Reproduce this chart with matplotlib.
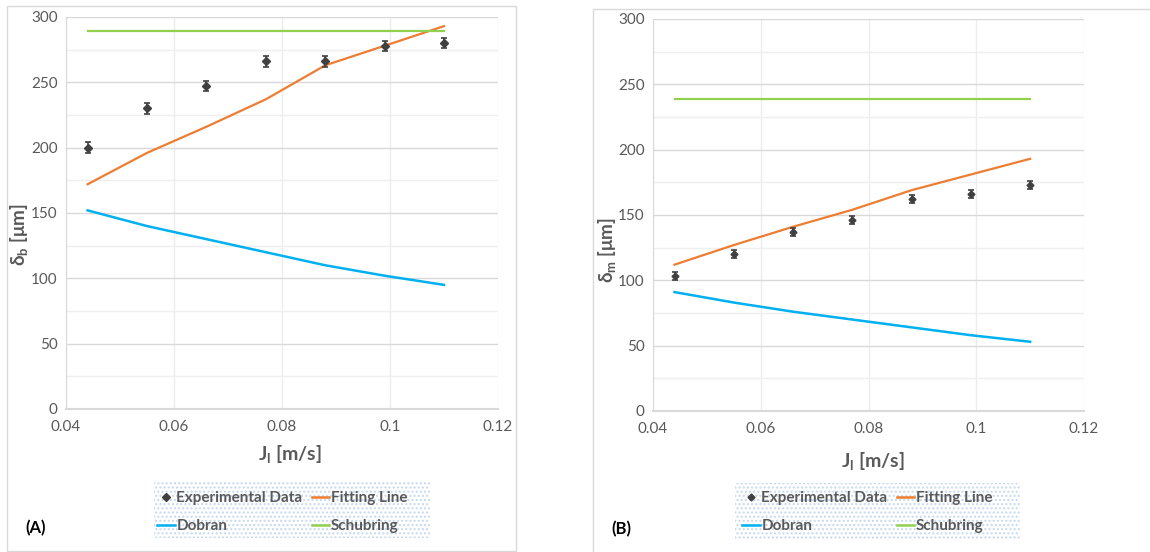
import matplotlib
matplotlib.use("Agg")
import matplotlib.pyplot as plt
from matplotlib.patches import Rectangle
from matplotlib.lines import Line2D
from matplotlib.ticker import MultipleLocator

plt.rcParams['font.family'] = ['Lato', 'DejaVu Sans']

# Superficial liquid velocity J_l [m/s]
jl = [0.044, 0.055, 0.066, 0.077, 0.088, 0.099, 0.110]

# (A) base film thickness delta_b [um]
exp_b = [200, 230, 247, 266, 266, 278, 280]
err_b = [4, 4, 4, 4, 4, 4, 4]
fit_b = [172, 196, 216, 237, 263, 278, 293]
dobran_b = [152, 140, 130, 120, 110, 102, 95]
schubring_b = [289, 289, 289, 289, 289, 289, 289]

# (B) mean film thickness delta_m [um]
exp_m = [103, 120, 137, 146, 162, 166, 173]
err_m = [3, 3, 3, 3, 3, 3, 3]
fit_m = [112, 127, 141, 154, 169, 181, 193]
dobran_m = [91, 83, 76, 70, 64, 58, 53]
schubring_m = [239, 239, 239, 239, 239, 239, 239]

x_ticks = [0.04, 0.06, 0.08, 0.1, 0.12]
x_tick_labels = ["0.04", "0.06", "0.08", "0.1", "0.12"]
y_ticks = [0, 50, 100, 150, 200, 250, 300]

ORANGE = "#ED7D31"
BLUE = "#00B0F0"
GREEN = "#92D050"
DARK = "#404040"
TXT = "#595959"

W, H = 1150, 552
fig = plt.figure(figsize=(W / 100, H / 100), dpi=100)


def fx(px):
    return px / W


def fy(py):
    return 1 - py / H


# panel frames
fig.patches.append(Rectangle((fx(7), fy(551)), fx(509), 545 / H, transform=fig.transFigure,
                             fill=False, edgecolor="#d9d9d9", linewidth=1.0))
fig.patches.append(Rectangle((fx(593), fy(560)), fx(600), 551 / H, transform=fig.transFigure,
                             fill=False, edgecolor="#d9d9d9", linewidth=1.0))


def panel(rect, exp, err, fit, dob, sch, ylabel, ms, tag, tag_pos, ylab_pos, xlab_pos,
          leg_box, leg_anchor):
    ax = fig.add_axes(rect)
    ax.set_xlim(0.04, 0.12)
    ax.set_ylim(0, 300)
    ax.set_xticks(x_ticks)
    ax.set_xticklabels(x_tick_labels)
    ax.set_yticks(y_ticks)
    ax.yaxis.set_minor_locator(MultipleLocator(25))
    ax.grid(True, which="major", axis="y", color="#d9d9d9", linewidth=1.0)
    ax.grid(True, which="minor", axis="y", color="#efefef", linewidth=1.0)
    ax.grid(True, which="major", axis="x", color="#ececec", linewidth=1.0)
    ax.set_axisbelow(True)
    for s in ("top", "right"):
        ax.spines[s].set_visible(False)
    ax.spines["left"].set_color("#d9d9d9")
    ax.spines["bottom"].set_color("#d9d9d9")
    ax.spines["bottom"].set_linewidth(1.5)
    ax.tick_params(which="both", length=0, colors=TXT, labelsize=11, pad=8)
    ax.tick_params(axis="y", pad=6)

    ax.plot(jl, fit, color=ORANGE, linewidth=1.6, zorder=3)
    ax.plot(jl, dob, color=BLUE, linewidth=1.8, zorder=3)
    ax.plot(jl, sch, color=GREEN, linewidth=1.6, zorder=3)
    ax.errorbar(jl, exp, yerr=err, fmt="D", color=DARK, markersize=ms, capsize=2.5,
                elinewidth=1.2, capthick=1.2, zorder=4)

    fig.text(fx(xlab_pos[0]), fy(xlab_pos[1]), r"J$_\mathregular{l}$ [m/s]", ha="center",
             va="center", fontsize=14, fontweight="bold", color=TXT)
    fig.text(fx(ylab_pos[0]), fy(ylab_pos[1]), ylabel, ha="center", va="center",
             rotation=90, fontsize=13.5, fontweight="bold", color=TXT)
    fig.text(fx(tag_pos[0]), fy(tag_pos[1]), tag, ha="left", va="center",
             fontsize=12, fontweight="bold", color="black")

    # dotted legend background
    x0, y0, x1, y1 = leg_box
    fig.patches.append(Rectangle((fx(x0), fy(y1)), fx(x1 - x0), (y1 - y0) / H,
                                 transform=fig.transFigure, facecolor="white",
                                 edgecolor="#c6d9ee", hatch="....", linewidth=0, zorder=1))
    handles = [
        Line2D([], [], color=DARK, marker="D", linestyle="none", markersize=ms),
        Line2D([], [], color=BLUE, linewidth=1.8),
        Line2D([], [], color=ORANGE, linewidth=1.8),
        Line2D([], [], color=GREEN, linewidth=1.8),
    ]
    labels = ["Experimental Data", "Dobran", "Fitting Line", "Schubring"]
    leg = fig.legend(handles, labels, loc="upper left", ncol=2,
                     bbox_to_anchor=(fx(leg_anchor[0]), fy(leg_anchor[1])),
                     bbox_transform=fig.transFigure, frameon=False, borderpad=0,
                     borderaxespad=0, fontsize=11, handlelength=1.15, handletextpad=0.12,
                     columnspacing=0.6, labelspacing=0.93)
    for t in leg.get_texts():
        t.set_color(TXT)
        t.set_fontweight("bold")
    return ax


panel([fx(66), fy(409), fx(432), 392 / H], exp_b, err_b, fit_b, dobran_b, schubring_b,
      r"δ$_\mathregular{b}$ [μm]", 4.5, "(A)", (25, 528), (20, 235), (290, 455),
      (154, 482, 430, 538), (157, 491))
panel([fx(653), fy(411), fx(431), 392 / H], exp_m, err_m, fit_m, dobran_m, schubring_m,
      r"δ$_\mathregular{m}$ [μm]", 3.5, "(B)", (611, 529), (608, 250), (873, 462),
      (735, 483, 1020, 540), (742, 491))

fig.savefig("out.png", dpi=100, facecolor="white")
